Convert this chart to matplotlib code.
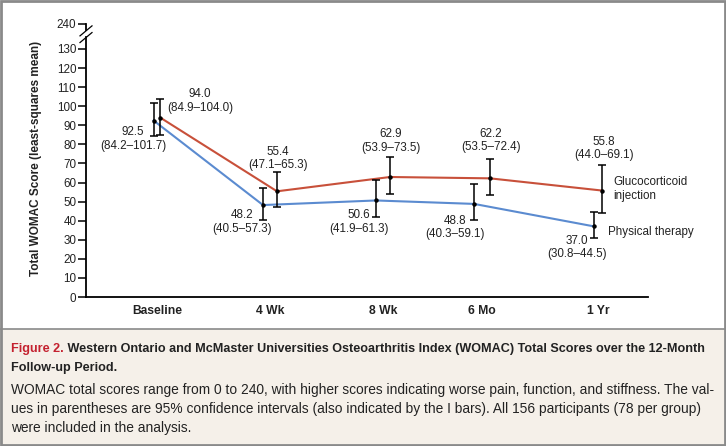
import numpy as np
import matplotlib
matplotlib.use("Agg")
from matplotlib import pyplot as plt
from matplotlib import font_manager
from matplotlib.patches import Rectangle
from matplotlib.lines import Line2D

plt.rcParams['font.family'] = ['Liberation Sans', 'DejaVu Sans']
names = {f.name for f in font_manager.fontManager.ttflist}
NARROW = 'Liberation Sans Narrow' if 'Liberation Sans Narrow' in names else 'Liberation Sans'

categories = ['Baseline', '4 Wk', '8 Wk', '6 Mo', '1 Yr']
gc_mean = [94.0, 55.4, 62.9, 62.2, 55.8]
gc_lo = [84.9, 47.1, 53.9, 53.5, 44.0]
gc_hi = [104.0, 65.3, 73.5, 72.4, 69.1]
pt_mean = [92.5, 48.2, 50.6, 48.8, 37.0]
pt_lo = [84.2, 40.5, 41.9, 40.3, 30.8]
pt_hi = [101.7, 57.3, 61.3, 59.1, 44.5]
yticks = list(range(0, 140, 10))

# layout (category centres and small dodge, in category units)
xpos = np.array([0, 1, 2, 2.876, 3.903])
dodge = np.array([0.03, 0.062, 0.062, 0.07, 0.035])
top_val = 143.1  # where the "240" tick sits after the axis break

RED = '#c8503a'
BLUE = '#5b8bd0'
TXT = '#222222'

fig = plt.figure(figsize=(7.26, 4.46), dpi=100)
W, H = 726, 446

# caption panel + frame
fig.patches.append(Rectangle((0, 0), 1, (H-329)/H, transform=fig.transFigure,
                             facecolor='#f5f0e9', edgecolor='none', zorder=0))
fig.add_artist(Line2D([0, 1], [(H-329)/H]*2, transform=fig.transFigure, color='#8a8a8a', lw=1.2))
fig.patches.append(Rectangle((0.001, 0.002), 0.998, 0.996, transform=fig.transFigure,
                             facecolor='none', edgecolor='#8a8a8a', lw=2, zorder=5))

ax = fig.add_axes([86/W, (H-297)/H, (648-86)/W, (297-24)/H], zorder=2)
ax.patch.set_visible(False)
ax.set_xlim(-0.628, 4.345)
ax.set_ylim(0, top_val)

xg = xpos + dodge
xp = xpos - dodge
ax.plot(xg, gc_mean, color=RED, lw=1.5, zorder=2)
ax.plot(xp, pt_mean, color=BLUE, lw=1.5, zorder=2)
for x, m, lo, hi in [(xg, gc_mean, gc_lo, gc_hi), (xp, pt_mean, pt_lo, pt_hi)]:
    m = np.array(m)
    ax.errorbar(x, m, yerr=[m-np.array(lo), np.array(hi)-m], fmt='o', color='black',
                ms=2.2, elinewidth=1.1, capsize=3.2, capthick=1.1, zorder=3)

# value labels
fs = 8.4
gc_off = [(39.6, 16.6), (1, 32.8), (0.5, 36), (1, 37.8), (1.5, 42)]
pt_off = [(-20.6, -18.5), (-21, -17), (-17.5, -21.5), (-19, -23.6), (-17.5, -21)]
for i in range(len(categories)):
    ax.annotate(f"{gc_mean[i]:.1f}\n({gc_lo[i]:.1f}\u2013{gc_hi[i]:.1f})", (xg[i], gc_mean[i]),
                xytext=gc_off[i], textcoords='offset pixels', ha='center', va='center',
                fontsize=fs, color=TXT, linespacing=1.15)
    ax.annotate(f"{pt_mean[i]:.1f}\n({pt_lo[i]:.1f}\u2013{pt_hi[i]:.1f})", (xp[i], pt_mean[i]),
                xytext=pt_off[i], textcoords='offset pixels', ha='center', va='center',
                fontsize=fs, color=TXT, linespacing=1.15)

ax.annotate("Glucocorticoid\ninjection", (xg[-1], gc_mean[-1]), xytext=(11, 1.5),
            textcoords='offset pixels', ha='left', va='center', fontsize=fs, color=TXT,
            linespacing=1.15)
ax.annotate("Physical therapy", (xp[-1], pt_mean[-1]), xytext=(14, -5.6),
            textcoords='offset pixels', ha='left', va='center', fontsize=fs, color=TXT)

# axes styling
for s in ['top', 'right', 'left']:
    ax.spines[s].set_visible(False)
ax.spines['bottom'].set_linewidth(1.3)
ax.set_xticks(xpos)
ax.set_xticklabels(categories, fontweight='bold', fontsize=8.7, color=TXT)
ax.tick_params(axis='x', length=0, pad=6)
ax.set_yticks(yticks + [top_val])
ax.set_yticklabels([str(v) for v in yticks] + ['240'], fontsize=fs, color=TXT)
ax.tick_params(axis='y', length=6, width=1.1, pad=1)

ytr = ax.get_yaxis_transform()
ax.plot([0, 0], [0, 136.3], color='black', lw=1.3, transform=ytr, clip_on=False)
ax.plot([0, 0], [139.8, top_val], color='black', lw=1.3, transform=ytr, clip_on=False)
px_x = 1/562
px_y = top_val/273
for c in [136.0, 139.5]:
    ax.plot([-6*px_x, 6*px_x], [c-5*px_y, c+5*px_y], color='black', lw=0.9,
            transform=ytr, clip_on=False)

ylab = ax.set_ylabel("Total WOMAC Score (least-squares mean)", fontweight='bold',
                     fontsize=8.6, color=TXT, family=NARROW)
ax.yaxis.set_label_coords(-0.078, 0.509)

# caption
cap = fig.add_axes([0, 0, 1, 1], zorder=1)
cap.patch.set_visible(False)
cap.set_xlim(0, W)
cap.set_ylim(H, 0)
cap.axis('off')
t1 = cap.text(11, 352, "Figure 2.", color='#c4212f', fontweight='bold', fontsize=9,
              va='baseline', family=NARROW)
t1b = cap.annotate(" Western Ontario and McMaster Universities Osteoarthritis Index (WOMAC) "
                   "Total Scores over the 12-Month", xy=(1, 0), xycoords=t1, va='bottom',
                   color=TXT, fontweight='bold', fontsize=9, family=NARROW)
t2 = cap.text(11, 371, "Follow-up Period.", color=TXT, fontweight='bold', fontsize=9,
              va='baseline', family=NARROW)
body = ["WOMAC total scores range from 0 to 240, with higher scores indicating worse pain, "
        "function, and stiffness. The val-",
        "ues in parentheses are 95% confidence intervals (also indicated by the I bars). "
        "All 156 participants (78 per group)",
        "were included in the analysis."]
tb = [cap.text(11, y, s, color=TXT, fontsize=9, va='baseline', family=NARROW)
      for s, y in zip(body, [394, 413, 432])]

fig.canvas.draw()
r = fig.canvas.get_renderer()
# fit caption widths to the reference
w1 = t1.get_window_extent(r).width + t1b.get_window_extent(r).width
k1 = 695 / w1
for t in [t1, t1b, t2]:
    t.set_fontsize(9 * k1)
k3 = 705 / tb[0].get_window_extent(r).width
for t in tb:
    t.set_fontsize(9 * k3)
ky = 233 / ylab.get_window_extent(r).height
ylab.set_fontsize(8.6 * ky)

fig.savefig("out.png", dpi=100)
